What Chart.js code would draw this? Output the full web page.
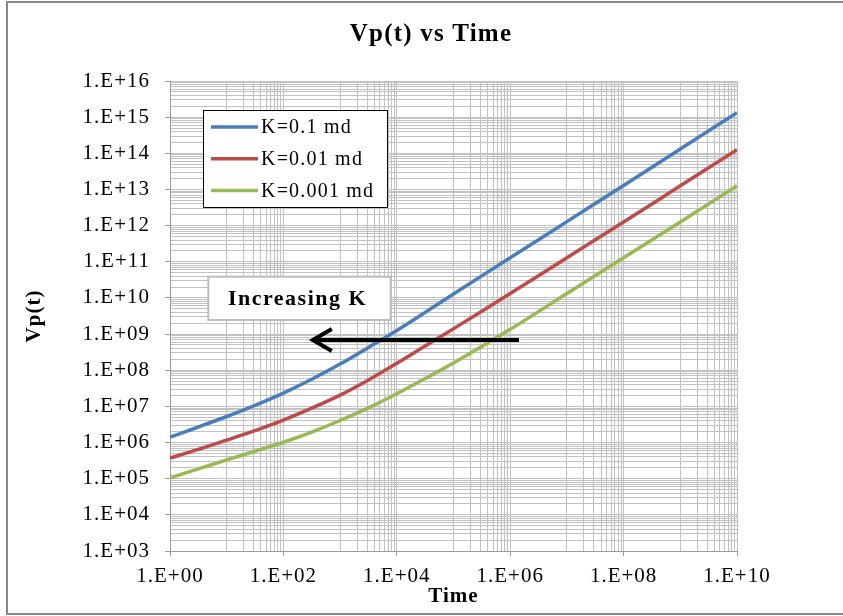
<!DOCTYPE html>
<html>
<head>
<meta charset="utf-8">
<script src="https://cdn.jsdelivr.net/npm/chart.js@4.4.1/dist/chart.umd.min.js"></script>
<style>
  html, body { margin: 0; padding: 0; overflow: hidden; background: #ffffff; }
  canvas { display: block; }
</style>
</head>
<body>
<canvas id="chart" width="843" height="616"></canvas>
<script>
// ---------------- data ----------------
const chartTitle = 'Vp(t) vs Time';
const xAxisTitle = 'Time';
const yAxisTitle = 'Vp(t)';
const seriesLabels = ['K=0.1 md', 'K=0.01 md', 'K=0.001 md'];
const seriesColors = ['#4a7ebb', '#be4b48', '#98b954'];

const times = [1, 3.16, 10, 31.6, 100, 316, 1e3, 3.16e3, 1e4, 3.16e4, 1e5, 3.16e5, 1e6, 1e7, 1e8, 1e9, 1e10];
const vpK01   = [1.41e6, 2.69e6, 5.25e6, 1.07e7, 2.34e7, 5.62e7, 1.48e8, 4.27e8, 1.26e9, 3.98e9, 1.29e10, 4.07e10, 1.29e11, 1.29e12, 1.29e13, 1.32e14, 1.32e15];
const vpK001  = [3.72e5, 6.46e5, 1.17e6, 2.14e6, 4.17e6, 8.91e6, 2.04e7, 5.37e7, 1.55e8, 4.68e8, 1.41e9, 4.27e9, 1.32e10, 1.29e11, 1.26e12, 1.26e13, 1.26e14];
const vpK0001 = [1.05e5, 1.86e5, 3.31e5, 5.75e5, 1.02e6, 1.95e6, 4.07e6, 9.12e6, 2.24e7, 5.89e7, 1.58e8, 4.57e8, 1.35e9, 1.32e10, 1.29e11, 1.26e12, 1.26e13];

// axis ranges (exponents of 10)
const xMinExp = 0, xMaxExp = 10;
const yMinExp = 3, yMaxExp = 16;

// annotation ("Increasing K" box and arrow), in data coordinates
const noteText = 'Increasing K';
const noteBoxTimes = [4.74, 7.8e3];
const noteBoxVp = [3.87e10, 2.45e9];
const arrowTimes = [1.43e6, 3.3e2]; // tail, tip
const arrowVp = 6.9e8;

// ---------------- helpers ----------------
function fmtExp(v) {
  const e = Math.round(Math.log10(v));
  return '1.E' + (e < 0 ? '-' : '+') + String(Math.abs(e)).padStart(2, '0');
}
function isMajorX(v) {
  const l = Math.log10(v), r = Math.round(l);
  return Math.abs(l - r) < 1e-6 && r % 2 === 0;
}
function isMajorY(v) {
  const l = Math.log10(v);
  return Math.abs(l - Math.round(l)) < 1e-6;
}

const xGridValues = [];
for (let k = xMinExp; k <= xMaxExp; k++) {
  if (k % 2 === 0) xGridValues.push(Math.pow(10, k));
  else for (let m = 1; m <= 9; m++) xGridValues.push(m * Math.pow(10, k));
}
const yGridValues = [];
for (let k = yMinExp; k <= yMaxExp; k++) {
  yGridValues.push(Math.pow(10, k));
  if (k < yMaxExp) for (let m = 2; m <= 9; m++) yGridValues.push(m * Math.pow(10, k));
}

const seriesValues = [vpK01, vpK001, vpK0001];
const datasets = seriesValues.map((vals, i) => ({
  label: seriesLabels[i],
  data: times.map((t, j) => ({ x: t, y: vals[j] })),
  borderColor: seriesColors[i],
  backgroundColor: seriesColors[i],
  borderWidth: 3.5,
  pointRadius: 0,
  fill: false,
  cubicInterpolationMode: 'monotone'
}));

const SERIF = '"Liberation Serif", "Times New Roman", serif';
const GRID = '#c2c2c2';
const AXIS = '#9c9c9c';

// ---------------- decorations plugin ----------------
const decor = {
  id: 'decor',
  beforeDraw(chart) {
    chart.ctx.letterSpacing = '1px';
  },
  afterDatasetsDraw(chart) {
    const { ctx, chartArea: ca, scales: { x, y } } = chart;
    ctx.save();
    // legend box
    const bx = ca.left + 33, by = ca.top + 29, bw = 184, bh = 97;
    ctx.fillStyle = '#ffffff';
    ctx.fillRect(bx, by, bw, bh);
    ctx.strokeStyle = '#000000';
    ctx.lineWidth = 1;
    ctx.strokeRect(bx + 0.5, by + 0.5, bw, bh);
    ctx.font = '20px ' + SERIF;
    ctx.letterSpacing = '1.2px';
    ctx.textAlign = 'left';
    ctx.textBaseline = 'middle';
    chart.data.datasets.forEach((ds, i) => {
      const ry = by + 17 + i * 31.7;
      ctx.strokeStyle = ds.borderColor;
      ctx.lineWidth = 3.5;
      ctx.beginPath();
      ctx.moveTo(bx + 8, ry);
      ctx.lineTo(bx + 55, ry);
      ctx.stroke();
      ctx.fillStyle = '#000000';
      ctx.fillText(ds.label, bx + 58, ry + 1);
    });

    // "Increasing K" box
    const nx1 = x.getPixelForValue(noteBoxTimes[0]);
    const nx2 = x.getPixelForValue(noteBoxTimes[1]);
    const ny1 = y.getPixelForValue(noteBoxVp[0]);
    const ny2 = y.getPixelForValue(noteBoxVp[1]);
    ctx.fillStyle = '#ffffff';
    ctx.fillRect(nx1, ny1, nx2 - nx1, ny2 - ny1);
    ctx.strokeStyle = '#bdbdbd';
    ctx.lineWidth = 2;
    ctx.strokeRect(nx1, ny1, nx2 - nx1, ny2 - ny1);
    ctx.fillStyle = '#000000';
    ctx.font = 'bold 22px ' + SERIF;
    ctx.letterSpacing = '1.5px';
    ctx.textAlign = 'center';
    ctx.textBaseline = 'middle';
    ctx.fillText(noteText, (nx1 + nx2) / 2 - 2, (ny1 + ny2) / 2 + 1);

    // arrow
    const ax1 = x.getPixelForValue(arrowTimes[0]);
    const ax2 = x.getPixelForValue(arrowTimes[1]);
    const ay = y.getPixelForValue(arrowVp);
    ctx.strokeStyle = '#000000';
    ctx.lineWidth = 4;
    ctx.lineCap = 'butt';
    ctx.beginPath();
    ctx.moveTo(ax1, ay);
    ctx.lineTo(ax2 + 2, ay);
    ctx.stroke();
    ctx.lineJoin = 'miter';
    ctx.beginPath();
    ctx.moveTo(ax2 + 19, ay - 11);
    ctx.lineTo(ax2, ay);
    ctx.lineTo(ax2 + 19, ay + 11);
    ctx.stroke();
    ctx.restore();
  },
  afterDraw(chart) {
    const { ctx } = chart;
    ctx.save();
    // chart title
    ctx.fillStyle = '#000000';
    ctx.font = 'bold 25px ' + SERIF;
    ctx.letterSpacing = '1.2px';
    ctx.textAlign = 'center';
    ctx.textBaseline = 'middle';
    ctx.fillText(chartTitle, 431, 35);
    // outer frame
    ctx.strokeStyle = '#878787';
    ctx.lineWidth = 2;
    ctx.strokeRect(7, 2, 900, 612);
    ctx.restore();
  }
};

// ---------------- chart ----------------
new Chart(document.getElementById('chart'), {
  type: 'line',
  data: { datasets },
  plugins: [decor],
  options: {
    responsive: false,
    animation: false,
    devicePixelRatio: 1,
    layout: { padding: { top: 81, right: 106, bottom: 0, left: 0 } },
    plugins: {
      legend: { display: false },
      title: { display: false },
      tooltip: { enabled: false }
    },
    scales: {
      x: {
        type: 'logarithmic',
        min: Math.pow(10, xMinExp),
        max: Math.pow(10, xMaxExp),
        afterBuildTicks: s => { s.ticks = xGridValues.map(v => ({ value: v })); },
        afterFit: s => { s.height = 65; },
        ticks: {
          autoSkip: false, maxRotation: 0, minRotation: 0, padding: 8,
          color: '#000000',
          font: { family: SERIF, size: 21 },
          callback: v => (isMajorX(v) ? fmtExp(v) : '')
        },
        grid: {
          color: GRID, lineWidth: 1, drawTicks: true, tickLength: 5,
          tickColor: c => (c.tick && isMajorX(c.tick.value) ? AXIS : 'rgba(0,0,0,0)')
        },
        border: { color: AXIS, width: 1 },
        title: {
          display: true, text: xAxisTitle, color: '#000000',
          font: { family: SERIF, size: 21, weight: 'bold' },
          padding: { top: 0, bottom: 7 }
        }
      },
      y: {
        type: 'logarithmic',
        min: Math.pow(10, yMinExp),
        max: Math.pow(10, yMaxExp),
        afterBuildTicks: s => { s.ticks = yGridValues.map(v => ({ value: v })); },
        afterFit: s => { s.width = 170; },
        ticks: {
          autoSkip: false, padding: 15,
          color: '#000000',
          font: { family: SERIF, size: 21 },
          callback: v => (isMajorY(v) ? fmtExp(v) : '')
        },
        grid: {
          color: GRID, lineWidth: 1, drawTicks: true, tickLength: 5,
          tickColor: c => (c.tick && isMajorY(c.tick.value) ? AXIS : 'rgba(0,0,0,0)')
        },
        border: { color: AXIS, width: 1 },
        title: {
          display: true, text: yAxisTitle, color: '#000000',
          font: { family: SERIF, size: 21, weight: 'bold' },
          padding: { top: 22, bottom: 0 }
        }
      }
    }
  }
});
</script>
</body>
</html>
